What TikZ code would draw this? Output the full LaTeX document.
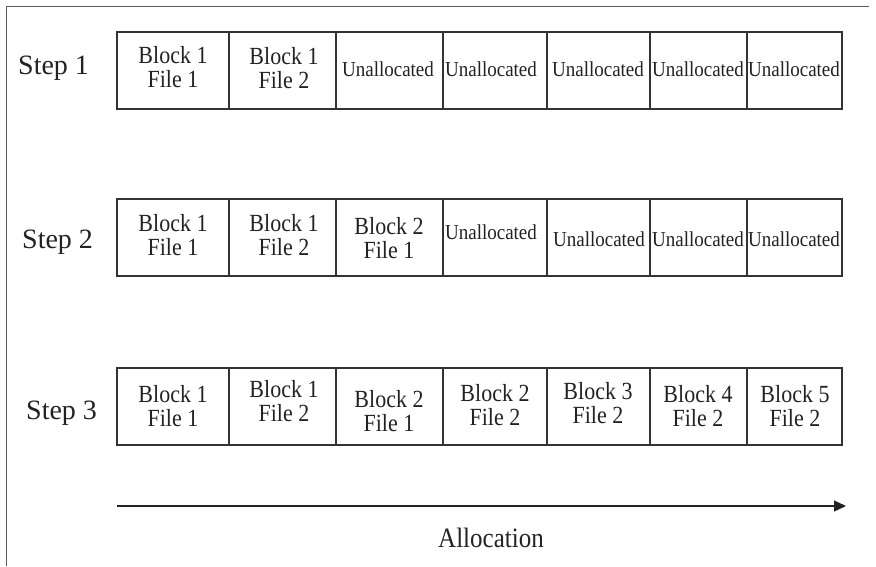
\documentclass[tikz,border=0pt]{standalone}
\usepackage{fontspec}
\setmainfont{Liberation Serif}
\usetikzlibrary{arrows.meta}
\definecolor{ink}{HTML}{222222}
\definecolor{edge}{HTML}{333333}
\newcommand\twol[2]{\scalebox{1}[1.12]{\fontsize{22}{21.5}\selectfont\begin{tabular}{@{}c@{}}#1\\#2\end{tabular}}}
\newcommand\unl{\scalebox{1}[1.12]{\fontsize{19}{22}\selectfont Unallocated}}
\begin{document}
\begin{tikzpicture}[x=1pt,y=1pt,
  cellbox/.style={draw=edge, line width=1.2pt, inner sep=0pt, minimum height=77pt},
  celltxt/.style={text=ink, inner sep=0pt, yshift=-3.5pt},
  unal/.style={text=ink, inner sep=0pt},
  steplbl/.style={text=ink, inner sep=0pt, anchor=base west, font=\fontsize{28}{30}\selectfont},
  frameline/.style={draw=edge!80, line width=1pt}]
\useasboundingbox (0,0) rectangle (876,-566);
% frame
\coordinate (fbl) at (6,-566);
\coordinate (ftl) at (6,-6);
\coordinate (ftr) at (869,-6);
\draw[frameline] (fbl) -- (ftl) -- (ftr);
% cell boxes
\foreach \r/\t in {1/32,2/199,3/368}{
  \foreach \i/\a/\b in {1/117/229,2/229/336,3/336/443,4/443/547,5/547/650,6/650/747,7/747/842}{
    \node[cellbox, minimum width={(\b-\a)*1pt}] (r\r c\i) at ({(\a+\b)/2},{-\t-38.5}) {};
  }
}
% step labels
\node[steplbl] (s1) at (18,-74) {Step 1};
\node[steplbl] (s2) at (22,-248) {Step 2};
\node[steplbl] (s3) at (26,-419) {Step 3};
% row 1
\node[celltxt] (t11) at (173,-67) {\twol{Block 1}{File 1}};
\node[celltxt] (t12) at (284,-68) {\twol{Block 1}{File 2}};
\node[unal] (t13) at (388,-69) {\unl};
\node[unal] (t14) at (491,-69) {\unl};
\node[unal] (t15) at (598,-69) {\unl};
\node[unal] (t16) at (698,-69) {\unl};
\node[unal] (t17) at (794,-69) {\unl};
% row 2
\node[celltxt] (t21) at (173,-235) {\twol{Block 1}{File 1}};
\node[celltxt] (t22) at (284,-235) {\twol{Block 1}{File 2}};
\node[celltxt] (t23) at (389,-238) {\twol{Block 2}{File 1}};
\node[unal] (t24) at (491,-232) {\unl};
\node[unal] (t25) at (599,-239) {\unl};
\node[unal] (t26) at (698,-239) {\unl};
\node[unal] (t27) at (794,-239) {\unl};
% row 3
\node[celltxt] (t31) at (173,-406) {\twol{Block 1}{File 1}};
\node[celltxt] (t32) at (284,-401) {\twol{Block 1}{File 2}};
\node[celltxt] (t33) at (389,-411) {\twol{Block 2}{File 1}};
\node[celltxt] (t34) at (495,-405) {\twol{Block 2}{File 2}};
\node[celltxt] (t35) at (598,-403) {\twol{Block 3}{File 2}};
\node[celltxt] (t36) at (698,-406) {\twol{Block 4}{File 2}};
\node[celltxt] (t37) at (795,-406) {\twol{Block 5}{File 2}};
% allocation arrow
\coordinate (as) at (117,-506);
\coordinate (ae) at (846,-506);
\draw[draw=ink, line width=1.3pt, -{Triangle[length=12pt,width=11pt]}] (as) -- (ae);
\node[text=ink, inner sep=0pt] (alloc) at (491,-538) {\scalebox{1}[1.12]{\fontsize{25}{28}\selectfont Allocation}};
\end{tikzpicture}
\end{document}
